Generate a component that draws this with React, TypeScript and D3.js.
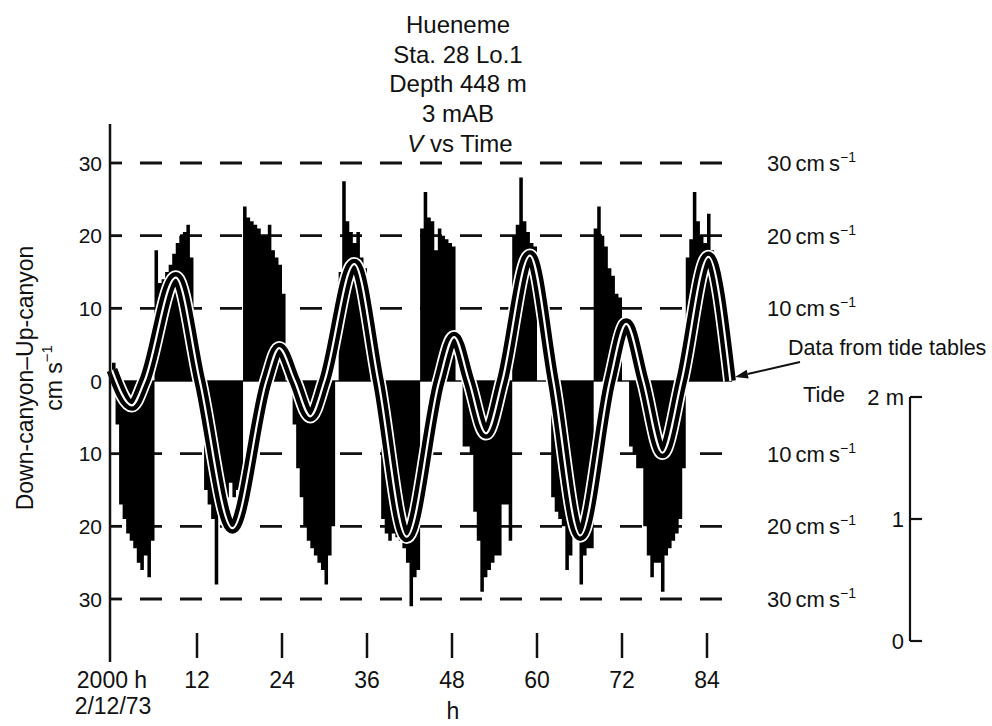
import React from 'react';
import * as d3 from 'd3';

// ---------- data ----------
const titleLines = ['Hueneme', 'Sta. 28 Lo.1', 'Depth 448 m', '3 mAB'];
const yAxisTitle = 'Down-canyon\u2013Up-canyon';
const yAxisUnit = 'cm s';
const yTicks = [30, 20, 10, 0, -10, -20, -30];
const gridLevels = [30, 20, 10, -10, -20, -30];
const xTicks = [12, 24, 36, 48, 60, 72, 84];
const xStartLabel = '2000 h';
const xDateLabel = '2/12/73';
const xAxisTitle = 'h';
const tideTicks = [0, 1, 2];
const tideTickLabels = ['0', '1', '2 m'];
const annotation = 'Data from tide tables';

// velocity (cm/s), sampled every 0.5 h starting at hour 0 (up-canyon positive)
const velocityStart = 0;
const velocityStep = 0.5;
const velocity = [
  2.5, -6, -17, -19, -21, -22, -23, -25, -26, -24, -27, -22,
  18, 13.5, 14, 15, 16, 17.5, 19, 20, 20.5, 21.5, 17, 0,
  0, 0, -15, -17, -19, -28, -18, -17, -16, -14, -16, -15, -17,
  24, 22.5, 22, 21.5, 21, 20, 20, 21.5, 18, 17, 16, 12, 0,
  0, -6, -12, -16, -20, -22, -23, -24, -25, -26, -28, -24, -20,
  0, 15, 27.5, 22, 20.5, 19, 20.5, 17, 15.5, 12, 0,
  0, 0, -19, -21, -22, -21, -21.5, -22, -23, -25, -31, -27, -26,
  21, 26, 22.5, 22, 18, 21, 20, 19.5, 19, 18.5, 0,
  0, -9, -9, -10, -18, -22, -29, -27, -26, -25, -24, -24, -17, -17, -22,
  20, 21.5, 28, 22, 20.5, 19, 18.5, 0,
  0, 0, 0, -16, -18, -19, -20, -26, -24, -21, -22, -28, -24, -23, -23,
  21, 24, 20, 18.5, 15.5, 14.5, 12, 11.5, 0,
  0, -9, -10, -12, -12, -20, -24, -27, -25, -25, -29, -24, -23, -22, -21, -19, -12,
  17, 19.5, 26, 22, 20, 19, 23, 18, 15, 11, 6, 0,
];

// tide height (m) from tide tables, read at turning points and mid-levels
const tideHours = [0, 2.8, 4.6, 9.0, 12.4, 17.0, 21.8, 23.6, 25.8, 28.0, 30.0, 34.2, 37.6, 41.6, 46.2, 48.3, 50.4, 52.8, 55.1, 59.0, 62.3, 66.1, 70.3, 72.6, 75.0, 77.7, 80.4, 84.2, 87.3];
const tideMeters = [1.09, 0.8, 1.0, 1.85, 1.0, -0.21, 1.0, 1.27, 1.0, 0.71, 1.0, 1.96, 1.0, -0.28, 1.0, 1.36, 1.0, 0.57, 1.0, 2.03, 1.0, -0.27, 1.0, 1.47, 1.0, 0.41, 1.0, 2.02, 1.0];

const FONT = '"Liberation Sans", Arial, Helvetica, sans-serif';

type VP = { t: number; v: number };
type TP = { t: number; m: number };

export default function App() {
  const W = 992;
  const H = 726;
  const x = d3.scaleLinear().domain([0, 84]).range([112, 707]);
  const y = d3.scaleLinear().domain([-30, 30]).range([599, 163]);
  const tideY = d3.scaleLinear().domain([0, 2]).range([y(-16.74), y(16.74)]);
  const tideBar = d3.scaleLinear().domain([0, 2]).range([641, 397]);

  const velPts: VP[] = velocity.map((v, i) => ({ t: velocityStart + i * velocityStep, v }));
  const area = d3
    .area<VP>()
    .x((d) => x(d.t))
    .y0(y(0))
    .y1((d) => y(d.v))
    .curve(d3.curveStepAfter);

  const tidePts: TP[] = tideHours.map((t, i) => ({ t, m: tideMeters[i] }));
  const tideLine = d3
    .line<TP>()
    .x((d) => x(d.t))
    .y((d) => tideY(d.m))
    .curve(d3.curveMonotoneX);
  const tidePath = tideLine(tidePts) || '';

  const axisX = 110;
  const gridEnd = 732;

  // arrow geometry
  const tip = { x: 735, y: 377 };
  const tail = { x: 800, y: 362 };
  const dx = tip.x - tail.x;
  const dy = tip.y - tail.y;
  const len = Math.hypot(dx, dy);
  const ux = dx / len;
  const uy = dy / len;
  const hl = 13;
  const hw = 4.5;
  const bx = tip.x - ux * hl;
  const by = tip.y - uy * hl;
  const head = `${tip.x},${tip.y} ${bx - uy * hw},${by + ux * hw} ${bx + uy * hw},${by - ux * hw}`;

  const tideAxisX = 910;

  return (
    <svg
      width={W}
      height={H}
      viewBox={`0 0 ${W} ${H}`}
      style={{ position: 'absolute', left: 0, top: 0, background: '#fff' }}
      fontFamily={FONT}
    >
      <rect x={0} y={0} width={W} height={H} fill="#fff" />

      {/* title */}
      <g textAnchor="middle" fontSize={24} fill="#111">
        {titleLines.map((s, i) => (
          <text key={s} x={458} y={33 + i * 29.7}>
            {s}
          </text>
        ))}
        <text x={460} y={33 + 4 * 29.7}>
          <tspan fontStyle="italic">V</tspan>
          <tspan> vs Time</tspan>
        </text>
      </g>

      {/* dashed reference lines */}
      <g stroke="#111" strokeWidth={2.8}>
        {gridLevels.map((g) => (
          <g key={g}>
            <line x1={axisX} x2={axisX + 12} y1={y(g)} y2={y(g)} />
            <line x1={axisX + 30} x2={gridEnd} y1={y(g)} y2={y(g)} strokeDasharray="22 18" />
          </g>
        ))}
        <line x1={axisX} x2={gridEnd} y1={y(0)} y2={y(0)} strokeWidth={1.5} />
      </g>

      {/* velocity record */}
      <path d={area(velPts) || ''} fill="#000" stroke="none" />

      {/* tide curve: white halo, black band, white centre */}
      <path d={tidePath} fill="none" stroke="#fff" strokeWidth={14.5} strokeLinejoin="round" />
      <path d={tidePath} fill="none" stroke="#000" strokeWidth={11} strokeLinejoin="round" />
      <path d={tidePath} fill="none" stroke="#fff" strokeWidth={2.2} strokeLinejoin="round" />

      {/* left axis */}
      <line x1={axisX} x2={axisX} y1={124} y2={662} stroke="#111" strokeWidth={2.5} />
      <g fontSize={21} textAnchor="end" fill="#111">
        {yTicks.map((t) => (
          <text key={t} x={102} y={y(t) + 7.5}>
            {Math.abs(t)}
          </text>
        ))}
      </g>

      {/* y axis title */}
      <text
        transform={`translate(33, 378) rotate(-90)`}
        textAnchor="middle"
        fontSize={23}
        fill="#111"
      >
        {yAxisTitle}
      </text>
      <text transform={`translate(62, 378) rotate(-90)`} textAnchor="middle" fontSize={23} fill="#111">
        <tspan>{yAxisUnit}</tspan>
        <tspan dy={-10} fontSize={15}>
          {'\u22121'}
        </tspan>
      </text>

      {/* x ticks */}
      <g stroke="#111" strokeWidth={2.5}>
        {xTicks.map((t) => (
          <line key={t} x1={x(t)} x2={x(t)} y1={633} y2={658} />
        ))}
      </g>
      <g fontSize={23} textAnchor="middle" fill="#111">
        <text x={x(0)} y={688}>
          {xStartLabel}
        </text>
        <text x={x(0) + 1} y={714}>
          {xDateLabel}
        </text>
        {xTicks.map((t) => (
          <text key={t} x={x(t)} y={688}>
            {t}
          </text>
        ))}
        <text x={x(48) + 1} y={719}>
          {xAxisTitle}
        </text>
      </g>

      {/* right-hand labels */}
      <g fontSize={22} fill="#111">
        {gridLevels.map((g) => (
          <text key={g} x={767} y={y(g) + 8} wordSpacing={-2}>
            <tspan>{`${Math.abs(g)} cm s`}</tspan>
            <tspan dy={-9} fontSize={14}>
              {'\u22121'}
            </tspan>
          </text>
        ))}
      </g>

      {/* annotation + arrow */}
      <text x={788} y={355} fontSize={21.5} fill="#111">
        {annotation}
      </text>
      <line x1={tail.x} y1={tail.y} x2={bx} y2={by} stroke="#111" strokeWidth={2} />
      <polygon points={head} fill="#111" />

      {/* tide scale */}
      <text x={803} y={402} fontSize={22} fill="#111">
        Tide
      </text>
      <g stroke="#111" strokeWidth={2.2}>
        <line x1={tideAxisX} x2={tideAxisX} y1={tideBar(2)} y2={tideBar(0)} />
        {tideTicks.map((t) => (
          <line key={t} x1={tideAxisX} x2={tideAxisX + 12} y1={tideBar(t)} y2={tideBar(t)} />
        ))}
      </g>
      <g fontSize={22} textAnchor="end" fill="#111">
        {tideTicks.map((t, i) => (
          <text key={t} x={tideAxisX - 6} y={tideBar(t) + 8}>
            {tideTickLabels[i]}
          </text>
        ))}
      </g>
    </svg>
  );
}
